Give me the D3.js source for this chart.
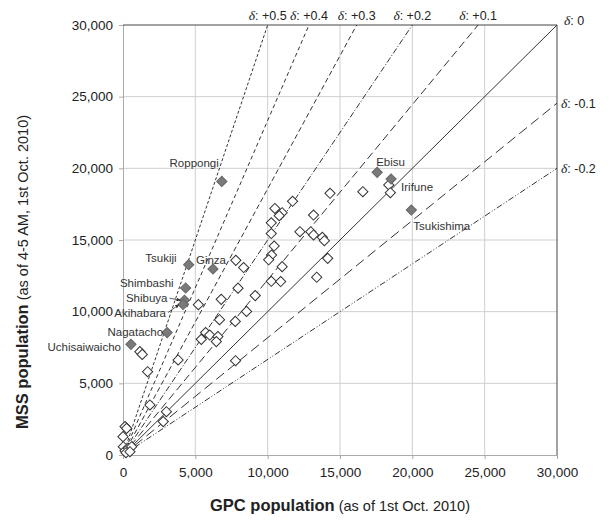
<!DOCTYPE html>
<html lang="en">
<head>
<meta charset="UTF-8">
<title>MSS vs GPC population</title>
<script src="https://d3js.org/d3.v7.min.js"></script>
<style>
    body, html {
        margin: 0;
        padding: 0;
        background: #fff;
    }
    svg text {
        font-family: "Liberation Sans", Arial, sans-serif;
        fill: #222;
    }
</style>
</head>
<body>
<svg id="chart" width="609" height="522"></svg>
<script>
    // labelled districts (filled diamonds)
    const names = ["Roppongi", "Tsukiji", "Ginza", "Shimbashi", "Shibuya", "Akihabara",
                   "Nagatacho", "Uchisaiwaicho", "Ebisu", "Irifune", "Tsukishima"];
    const namedGpc = [6830, 4540, 6220, 4330, 4250, 4150, 3050, 550, 17570, 18530, 19930];
    const namedMss = [19090, 13280, 12980, 11650, 10800, 10500, 8540, 7720, 19720, 19260, 17090];

    // other districts (open diamonds)
    const gpc = [11720, 10500, 11000, 10800, 10250, 10250, 10450, 10270, 10070, 7800,
                 8340, 11000, 10250, 10900, 7950, 9140, 6790, 5210, 8540, 6670,
                 7760, 5710, 5410, 5990, 6560, 6450, 3810, 7780, 1170, 1330,
                 1700, 1860, 3000, 2780, 140, 250, 0, 20, 140, 370,
                 600, 210, 480, 14310, 16580, 13170, 12230, 12980, 13170, 13780,
                 13920, 14150, 13390, 18370, 18480];
    const mss = [17700, 17200, 16900, 16700, 16200, 15450, 14580, 13950, 13620, 13580,
                 13080, 13140, 12120, 12100, 11640, 11120, 10860, 10490, 10020, 9440,
                 9320, 8540, 8070, 8370, 8260, 7910, 6630, 6580, 7210, 7020,
                 5810, 3490, 3020, 2330, 1980, 1860, 1280, 580, 300, 470,
                 580, 160, 230, 18260, 18370, 16740, 15580, 15580, 15350, 15190,
                 14950, 13720, 12400, 18840, 18300];

    // reference lines y = x (1 + d) / (1 - d)
    const deltas = [0.5, 0.4, 0.3, 0.2, 0.1, 0, -0.1, -0.2];
    const deltaLabels = ["+0.5", "+0.4", "+0.3", "+0.2", "+0.1", "0", "-0.1", "-0.2"];
    const dashes = ["3,2", "4,3", "5,3", "6,2,1,2", "8,4", null, "10,5", "6,2,1,2,1,2"];

    const ticks = [0, 5000, 10000, 15000, 20000, 25000, 30000];

    const margin = {left: 123, right: 52, top: 25, bottom: 67};
    const width = 609, height = 522;

    const svg = d3.select("#chart");

    const x = d3.scaleLinear().domain([0, 30000]).range([margin.left, width - margin.right]);
    const y = d3.scaleLinear().domain([0, 30000]).range([height - margin.bottom, margin.top]);
    const fmt = d3.format(",");

    // grid
    svg.append("g").selectAll("line").data(ticks.slice(1, -1)).enter().append("line")
        .attr("x1", d => x(d)).attr("x2", d => x(d))
        .attr("y1", y(0)).attr("y2", y(30000))
        .style("stroke", "#cfcfcf");
    svg.append("g").selectAll("line").data(ticks.slice(1, -1)).enter().append("line")
        .attr("y1", d => y(d)).attr("y2", d => y(d))
        .attr("x1", x(0)).attr("x2", x(30000))
        .style("stroke", "#cfcfcf");

    // axes
    const xAxis = svg.append("g")
        .attr("transform", `translate(0,${y(0)})`)
        .call(d3.axisBottom(x).tickValues(ticks).tickFormat(fmt).tickSize(4).tickPadding(8));
    const yAxis = svg.append("g")
        .attr("transform", `translate(${x(0)},0)`)
        .call(d3.axisLeft(y).tickValues(ticks).tickFormat(fmt).tickSize(4).tickPadding(6));
    [xAxis, yAxis].forEach(a => {
        a.select(".domain").style("stroke", "#aaa");
        a.selectAll(".tick line").style("stroke", "#aaa");
        a.selectAll("text").style("font-size", "13.5px").style("fill", "#222")
            .style("font-family", "'Liberation Sans', Arial, sans-serif");
    });

    // top and right frame
    svg.append("line").attr("x1", x(0)).attr("x2", x(30000)).attr("y1", y(30000)).attr("y2", y(30000))
        .style("stroke", "#444");
    svg.append("line").attr("x1", x(30000)).attr("x2", x(30000)).attr("y1", y(30000)).attr("y2", y(0))
        .style("stroke", "#444");

    // delta lines
    deltas.forEach((d, i) => {
        const k = (1 + d) / (1 - d);
        const endX = k >= 1 ? 30000 / k : 30000;
        const endY = endX * k;
        svg.append("line")
            .attr("x1", x(0)).attr("y1", y(0))
            .attr("x2", x(endX)).attr("y2", y(endY))
            .style("stroke", "#333")
            .style("stroke-width", 1)
            .style("stroke-dasharray", dashes[i]);

        const lab = svg.append("text").style("font-size", "12.5px");
        if (k > 1) {
            lab.attr("x", x(endX)).attr("y", y(30000) - 5).attr("text-anchor", "middle");
        } else if (k === 1) {
            lab.attr("x", x(30000) + 7).attr("y", y(30000) - 0);
        } else {
            lab.attr("x", x(30000) + 4).attr("y", y(endY) + 5);
        }
        lab.append("tspan").text("δ").style("font-style", "italic")
            .style("font-family", "'Liberation Serif', 'Times New Roman', serif")
            .style("font-size", "13.5px");
        lab.append("tspan").text(": " + deltaLabels[i]);
    });

    const diamond = d3.symbol().type(d3.symbolSquare).size(52);

    // open diamonds
    svg.append("g").selectAll("path").data(gpc).enter().append("path")
        .attr("d", diamond)
        .attr("transform", (d, i) => `translate(${x(d)},${y(mss[i])}) rotate(45)`)
        .style("fill", "#fff")
        .style("stroke", "#333")
        .style("stroke-width", 1);

    // filled diamonds
    svg.append("g").selectAll("path").data(namedGpc).enter().append("path")
        .attr("d", diamond)
        .attr("transform", (d, i) => `translate(${x(d)},${y(namedMss[i])}) rotate(45)`)
        .style("fill", "#7a7a7a")
        .style("stroke", "#666")
        .style("stroke-width", 1);

    // point labels: [dx, dy, anchor]
    const labelPos = [[-3, -14, "end"], [-12, -3, "end"], [-17, -5, "start"], [-12, -1, "end"],
                      [-17, 2, "end"], [-17, 12, "end"], [-4, 3, "end"], [-10, 7, "end"],
                      [-1, -6, "start"], [10, 12, "start"], [2, 20, "start"]];
    names.forEach((n, i) => {
        svg.append("text")
            .attr("x", x(namedGpc[i]) + labelPos[i][0])
            .attr("y", y(namedMss[i]) + labelPos[i][1])
            .attr("text-anchor", labelPos[i][2])
            .style("font-size", "11.5px")
            .style("fill", "#333")
            .text(n);
    });

    // arrows for Shibuya / Akihabara
    const defs = svg.append("defs");
    defs.append("marker").attr("id", "arr").attr("viewBox", "0 0 6 6")
        .attr("refX", 6).attr("refY", 3).attr("markerWidth", 5).attr("markerHeight", 5)
        .attr("orient", "auto")
        .append("path").attr("d", "M0,0L6,3L0,6Z").style("fill", "#333");
    [4, 5].forEach(i => {
        const px = x(namedGpc[i]), py = y(namedMss[i]);
        svg.append("line")
            .attr("x1", px - 15).attr("y1", py + labelPos[i][1] - 4)
            .attr("x2", px - 4).attr("y2", py)
            .style("stroke", "#333").style("stroke-width", 0.8)
            .attr("marker-end", "url(#arr)");
    });

    // axis titles
    const xt = svg.append("text")
        .attr("x", (x(0) + x(30000)) / 2)
        .attr("y", 511)
        .attr("text-anchor", "middle");
    xt.append("tspan").text("GPC population").style("font-weight", "bold").style("font-size", "16.5px");
    xt.append("tspan").text(" (as of 1st Oct. 2010)").style("font-size", "14.5px");

    const yt = svg.append("text")
        .attr("transform", `translate(28,272) rotate(-90)`)
        .attr("text-anchor", "middle");
    yt.append("tspan").text("MSS population").style("font-weight", "bold").style("font-size", "16.5px");
    yt.append("tspan").text(" (as of 4-5 AM, 1st Oct. 2010)").style("font-size", "14.5px");
</script>
</body>
</html>
